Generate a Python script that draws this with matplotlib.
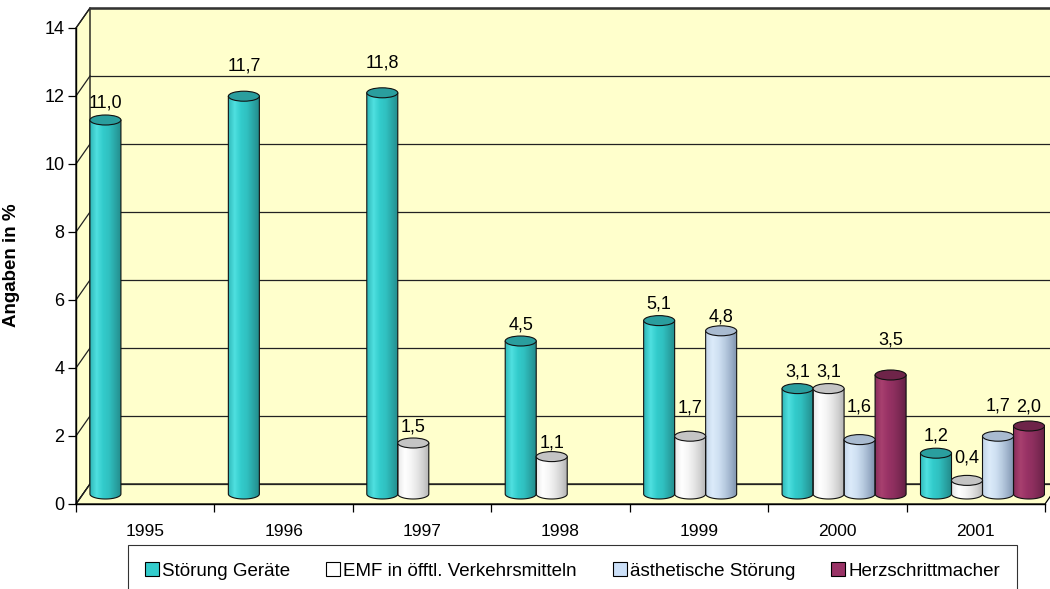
import numpy as np
import matplotlib
matplotlib.use("Agg")
import matplotlib.pyplot as plt
from matplotlib.patches import Polygon, Ellipse, Patch
from matplotlib.colors import LinearSegmentedColormap

plt.rcParams['font.family'] = ['Liberation Sans', 'DejaVu Sans']

# data
years = ['1995', '1996', '1997', '1998', '1999', '2000', '2001']
stoerung_geraete = [11.0, 11.7, 11.8, 4.5, 5.1, 3.1, 1.2]
emf_verkehr = [None, None, 1.5, 1.1, 1.7, 3.1, 0.4]
aesth_stoerung = [None, None, None, None, 4.8, 1.6, 1.7]
herzschritt = [None, None, None, None, None, 3.5, 2.0]

series_names = ['Störung Geräte', 'EMF in öfftl. Verkehrsmitteln',
                'ästhetische Störung', 'Herzschrittmacher']
series_vals = [stoerung_geraete, emf_verkehr, aesth_stoerung, herzschritt]

# style: cylinder gradient stops (left -> right) and top colour
grad_stops = [
    ['#2fb8b8', '#4fe0e0', '#33cccc', '#30c0c0', '#2aa5a5', '#228a8a'],
    ['#e8e8e8', '#ffffff', '#f6f6f6', '#e6e6e6', '#d0d0d0', '#b0b0b0'],
    ['#c4d6ea', '#dcebfa', '#cfe0f2', '#b8cbe0', '#9bafc8', '#7a8ea8'],
    ['#8a2e5c', '#a8406f', '#993366', '#8d2f5e', '#7a2852', '#612042'],
]
top_colors = ['#2a9e9e', '#c4c4c4', '#a9bbd0', '#6e2449']
legend_colors = ['#33cccc', '#ffffff', '#cce0f8', '#993366']
wall_color = '#ffffcc'

# label distance above bar top in px (Excel moves some labels up)
label_gap_px = [
    [17, 30, 30, 16, 17, 17, 17],
    [0, 0, 16, 14, 28, 17, 22],
    [0, 0, 0, 0, 14, 33, 30],
    [0, 0, 0, 0, 0, 35, 19],
]

W, H, DPI = 1050, 589, 100
fig = plt.figure(figsize=(W / DPI, H / DPI), dpi=DPI)
x_left, x_right, y_top, y_bot = 76, 1045, 28, 504
ax = fig.add_axes([x_left / W, 1 - y_bot / H, (x_right - x_left) / W, (y_bot - y_top) / H])
ax.set_facecolor('none')

n_cat = len(years)
ymax = 14
ppx = (x_right - x_left) / n_cat
ppy = (y_bot - y_top) / ymax
dxb, dyb = 14 / ppx, 20 / ppy        # depth offset of back wall
dxm, dym = dxb / 2, dyb / 2          # bars sit mid-depth

# walls
ax.add_patch(Polygon([(dxb, dyb), (n_cat + dxb, dyb), (n_cat + dxb, ymax + dyb), (dxb, ymax + dyb)],
                     closed=True, fc=wall_color, ec='none', zorder=0, clip_on=False))
ax.add_patch(Polygon([(0, 0), (dxb, dyb), (dxb, ymax + dyb), (0, ymax)],
                     closed=True, fc=wall_color, ec='black', lw=0.9, zorder=0.5, clip_on=False))
ax.add_patch(Polygon([(0, 0), (n_cat, 0), (n_cat + dxb, dyb), (dxb, dyb)],
                     closed=True, fc=wall_color, ec='black', lw=0.9, zorder=0.5, clip_on=False))

yticks = np.arange(0, ymax + 1, 2)
for yt in yticks:
    ax.plot([dxb, n_cat + dxb], [yt + dyb, yt + dyb], color='#222222', lw=0.9, zorder=1, clip_on=False)
    ax.plot([0, dxb], [yt, yt + dyb], color='#222222', lw=0.9, zorder=1, clip_on=False)
ax.plot([dxb, n_cat + dxb], [ymax + dyb, ymax + dyb], color='#333333', lw=1.8, zorder=1, clip_on=False)

# cylinders
bar_w = 0.224
ry = 5 / ppy
gx = np.linspace(0, 1, 64)[None, :]
for s, vals in enumerate(series_vals):
    cmap = LinearSegmentedColormap.from_list('c%d' % s, grad_stops[s])
    for i, v in enumerate(vals):
        if v is None:
            continue
        x0 = i + dxm + 0.05 + s * bar_w
        x1 = x0 + bar_w
        cx = (x0 + x1) / 2
        base = dym
        top = v + dym
        th = np.linspace(np.pi, 2 * np.pi, 40)
        pts = np.column_stack([cx + bar_w / 2 * np.cos(th), base + ry * np.sin(th)])
        pts = np.vstack([pts, [[x1, top], [x0, top]]])
        body = Polygon(pts, closed=True, fc='none', ec='#111111', lw=0.8, zorder=3 + i * 0.01 + s * 0.001)
        ax.add_patch(body)
        im = ax.imshow(gx, cmap=cmap, extent=(x0, x1, base - ry, top), aspect='auto',
                       interpolation='bilinear', zorder=2.9 + i * 0.01 + s * 0.001)
        im.set_clip_path(body)
        ax.add_patch(Ellipse((cx, top), bar_w, 2 * ry, fc=top_colors[s], ec='#111111', lw=0.8,
                             zorder=3.005 + i * 0.01 + s * 0.001))
        ax.annotate(f'{v:.1f}'.replace('.', ','), (cx, top), xytext=(0, label_gap_px[s][i] * 72 / DPI),
                    textcoords='offset points', ha='center', va='center', fontsize=13, zorder=6)

ax.set_xlim(0, n_cat)
ax.set_ylim(0, ymax)

# axes
for sp in ['top', 'right']:
    ax.spines[sp].set_visible(False)
for sp in ['left', 'bottom']:
    ax.spines[sp].set_color('black')
    ax.spines[sp].set_linewidth(1.0)
    ax.spines[sp].set_zorder(1.5)
ax.set_yticks(yticks)
ax.set_yticklabels([str(int(t)) for t in yticks])
ax.tick_params(axis='y', direction='out', length=5.8, width=0.9, pad=2.5, labelsize=13)
ax.set_xticks(np.arange(n_cat + 1))
ax.set_xticklabels([])
ax.set_xticks(np.arange(n_cat) + 0.5, minor=True)
ax.set_xticklabels(years, minor=True)
ax.tick_params(axis='x', which='major', direction='out', length=5.8, width=0.9)
ax.tick_params(axis='x', which='minor', length=0, pad=14.5, labelsize=12.5)

ax.set_ylabel('Angaben in %', fontsize=13.5, fontweight='bold')
ax.yaxis.set_label_coords(-0.058, 0.502)

handles = [Patch(fc=c, ec='black', lw=0.8) for c in legend_colors]
leg = fig.legend(handles, series_names, loc='center', bbox_to_anchor=(572.5 / W, 1 - 571 / H),
                 ncol=4, fontsize=13.5, frameon=True, fancybox=False, handlelength=0.75,
                 handleheight=0.75, handletextpad=0.16, columnspacing=1.92, borderpad=0.9,
                 borderaxespad=0)
leg.get_frame().set_edgecolor('black')
leg.get_frame().set_linewidth(0.8)

fig.savefig('out.png', dpi=DPI)
